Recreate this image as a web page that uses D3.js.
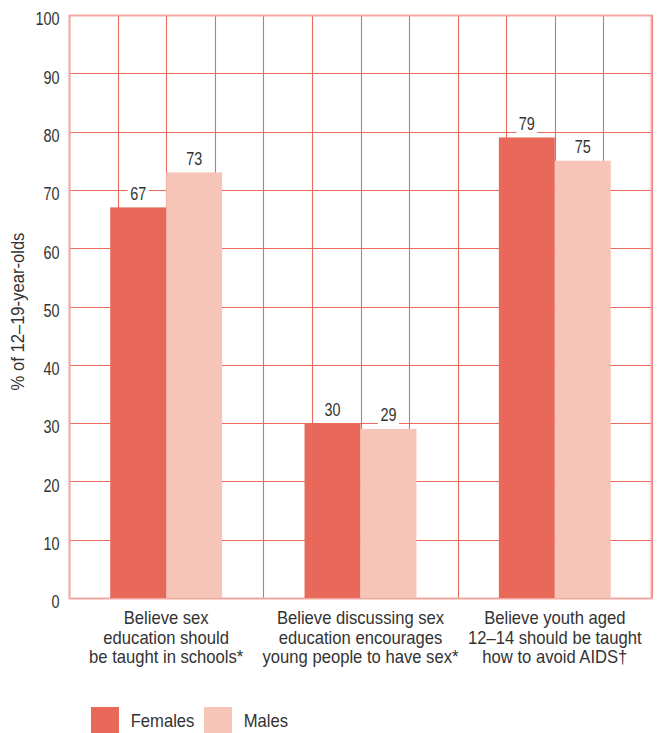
<!DOCTYPE html>
<html>
<head>
<meta charset="utf-8">
<script src="https://cdn.jsdelivr.net/npm/d3@7/dist/d3.min.js"></script>
<style>
  html, body { margin: 0; padding: 0; background: #fff; }
  svg { display: block; }
  text { font-family: "Liberation Sans", Arial, sans-serif; fill: #333; }
</style>
</head>
<body>
<svg id="chart" width="658" height="733"></svg>
<script>
// Survey results: share of 12–19-year-olds agreeing with each statement
const categories = [
  ["Believe sex", "education should", "be taught in schools*"],
  ["Believe discussing sex", "education encourages", "young people to have sex*"],
  ["Believe youth aged", "12\u201314 should be taught", "how to avoid AIDS\u2020"]
];
const seriesNames = ["Females", "Males"];
const females = [67, 30, 79];
const males = [73, 29, 75];
const yTicks = [0, 10, 20, 30, 40, 50, 60, 70, 80, 90, 100];
const yTitle = "% of 12\u201319-year-olds";

const colors = { Females: "#e8695a", Males: "#f6c5b8" };
const gridColor = "#e96a5d";
const frameColor = "#f2a89f";

// condensed look: narrow the glyphs horizontally
const numScale = 0.78, txtScale = 0.94;

const svg = d3.select("#chart");
const plotLeft = 69, plotRight = 652, plotTop = 15, plotBottom = 598;

const y = d3.scaleLinear().domain([0, 100]).range([plotBottom, plotTop]);
const x0 = d3.scaleBand().domain(d3.range(categories.length)).range([plotLeft, plotRight]);
const bw = x0.bandwidth();
const barW = bw * 0.288;
const x1 = d3.scaleBand().domain(seriesNames).range([bw / 2 - barW, bw / 2 + barW]);

const values = { Females: females, Males: males };

function label(parent, x, yPos, str, size, sx, anchor) {
  return parent.append("text")
    .attr("transform", `translate(${x},${yPos}) scale(${sx},1)`)
    .attr("text-anchor", anchor || "start")
    .attr("font-size", size)
    .text(str);
}

// grid: horizontal lines at each tick, vertical lines splitting each group into quarters
const grid = svg.append("g");
grid.selectAll("line.h").data(yTicks).join("line")
  .attr("x1", plotLeft).attr("x2", plotRight)
  .attr("y1", d => Math.round(y(d)) + 0.5).attr("y2", d => Math.round(y(d)) + 0.5)
  .attr("stroke", gridColor).attr("stroke-width", 1.1);
const vx = d3.scaleLinear().domain([0, 12]).range([plotLeft, plotRight]);
grid.selectAll("line.v").data(d3.range(13)).join("line")
  .attr("x1", d => Math.round(vx(d)) + 0.5).attr("x2", d => Math.round(vx(d)) + 0.5)
  .attr("y1", plotTop).attr("y2", plotBottom)
  .attr("stroke", gridColor).attr("stroke-width", 1.1);
// lighter outer frame
svg.append("rect")
  .attr("x", plotLeft + 0.5).attr("y", Math.round(plotTop) + 0.5)
  .attr("width", plotRight - plotLeft - 1).attr("height", Math.round(plotBottom) - Math.round(plotTop))
  .attr("fill", "none").attr("stroke", frameColor).attr("stroke-width", 2);

// bars
const groups = svg.append("g").selectAll("g").data(categories).join("g")
  .attr("transform", (d, i) => `translate(${x0(i)},0)`);
groups.each(function (d, i) {
  const g = d3.select(this);
  seriesNames.forEach(s => {
    const v = values[s][i];
    g.append("rect")
      .attr("x", x1(s)).attr("width", x1.bandwidth())
      .attr("y", y(v)).attr("height", y(0) - y(v))
      .attr("fill", colors[s]);
  });
});

// value labels with white backing boxes
groups.each(function (d, i) {
  const g = d3.select(this);
  seriesNames.forEach(s => {
    const v = values[s][i];
    const cx = x1(s) + x1.bandwidth() / 2;
    const base = y(v) - 7.5;
    const t = label(g, cx, base, v, 18.5, numScale, "middle");
    const w = t.node().getBBox().width * numScale;
    g.insert("rect", "text")
      .attr("x", cx - w / 2 - 2.5).attr("y", base - 16)
      .attr("width", w + 5).attr("height", 19)
      .attr("fill", "#fff");
  });
});

// y axis tick labels
const yAxis = svg.append("g");
yTicks.forEach(d => label(yAxis, 59.5, y(d) + 10.3, d, 18.5, numScale, "end"));

// y axis title
svg.append("text")
  .attr("transform", `translate(24,311.5) rotate(-90) scale(0.95,1)`)
  .attr("text-anchor", "middle").attr("font-size", 17.5)
  .text(yTitle);

// category labels
const catG = svg.append("g");
categories.forEach((lines, i) => {
  const t = catG.append("text")
    .attr("transform", `translate(${x0(i) + bw / 2},624.3) scale(${txtScale},1)`)
    .attr("text-anchor", "middle").attr("font-size", 17.7);
  t.selectAll("tspan").data(lines).join("tspan")
    .attr("x", 0)
    .attr("dy", (d, j) => j === 0 ? 0 : 19.5)
    .text(d => d);
});

// legend
const legendX = [91, 204];
const legend = svg.append("g");
seriesNames.forEach((s, i) => {
  legend.append("rect")
    .attr("x", legendX[i]).attr("y", 707)
    .attr("width", 28).attr("height", 28)
    .attr("fill", colors[s]);
  label(legend, legendX[i] + 39.7, 727.3, s, 17.7, txtScale, "start");
});
</script>
</body>
</html>
